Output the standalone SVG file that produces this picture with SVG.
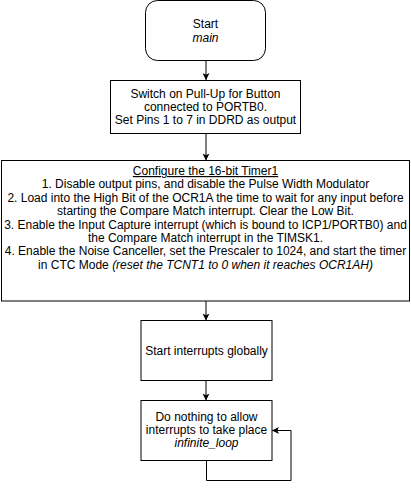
<svg xmlns="http://www.w3.org/2000/svg" width="411" height="489" viewBox="0 0 411 489">
<style>
.box{fill:#fff;stroke:#000;stroke-width:1}
.t{font-family:"Liberation Sans",Arial,sans-serif;font-size:12px;fill:#000;text-anchor:middle}
.i{font-style:italic}
.c{fill:none;stroke:#000;stroke-width:1}
</style>
<defs>
<marker id="arr" viewBox="0 0 10 10" refX="10" refY="5" markerWidth="7" markerHeight="7" markerUnits="userSpaceOnUse" orient="auto">
<path d="M0,0 L10,5 L0,10 L2.5,5 Z" fill="#000"/>
</marker>
</defs>
<rect width="411" height="489" fill="#fff"/>
<g id="connectors">
<path class="c" d="M206,60.5 V80" marker-end="url(#arr)"/>
<path class="c" d="M206,133.5 V160.5" marker-end="url(#arr)"/>
<path class="c" d="M206,301 V320.5" marker-end="url(#arr)"/>
<path class="c" d="M206,380.5 V400.5" marker-end="url(#arr)"/>
<path class="c" d="M206.5,460.5 V480.5 H291 V430.5 H272" marker-end="url(#arr)"/>
</g>
<g id="start">
<rect class="box" x="145.5" y="0.5" width="120" height="60" rx="12" ry="12"/>
<text class="t" x="205.5" y="28.3">Start</text>
<text class="t i" x="205.5" y="41.7">main</text>
</g>
<g id="pullup">
<rect class="box" x="110.5" y="80.5" width="190" height="53"/>
<text class="t" x="205.5" y="97.6">Switch on Pull-Up for Button</text>
<text class="t" x="205.5" y="111">connected to PORTB0.</text>
<text class="t" x="205.5" y="124.4">Set Pins 1 to 7 in DDRD as output</text>
</g>
<g id="timer">
<rect class="box" x="1.5" y="160.5" width="408" height="140.5"/>
<text class="t" x="205.5" y="175" text-decoration="underline">Configure the 16-bit Timer1</text>
<text class="t" x="205.5" y="188.4">1. Disable output pins, and disable the Pulse Width Modulator</text>
<text class="t" x="205.5" y="201.8">2. Load into the High Bit of the OCR1A the time to wait for any input before</text>
<text class="t" x="205.5" y="215.2">starting the Compare Match interrupt. Clear the Low Bit.</text>
<text class="t" x="205.5" y="228.6">3. Enable the Input Capture interrupt (which is bound to ICP1/PORTB0) and</text>
<text class="t" x="205.5" y="242">the Compare Match interrupt in the TIMSK1.</text>
<text class="t" x="205.5" y="255.4">4. Enable the Noise Canceller, set the Prescaler to 1024, and start the timer</text>
<text class="t" x="205.5" y="268.8" xml:space="preserve">in CTC Mode <tspan class="i">(reset the TCNT1 to 0 when it reaches OCR1AH)</tspan></text>
</g>
<g id="interrupts">
<rect class="box" x="141" y="320.5" width="131" height="60"/>
<text class="t" x="206.5" y="355">Start interrupts globally</text>
</g>
<g id="loop">
<rect class="box" x="141" y="400.5" width="131" height="60"/>
<text class="t" x="206.5" y="420.6">Do nothing to allow</text>
<text class="t" x="206.5" y="434">interrupts to take place</text>
<text class="t i" x="206.5" y="447.4">infinite_loop</text>
</g>
</svg>
